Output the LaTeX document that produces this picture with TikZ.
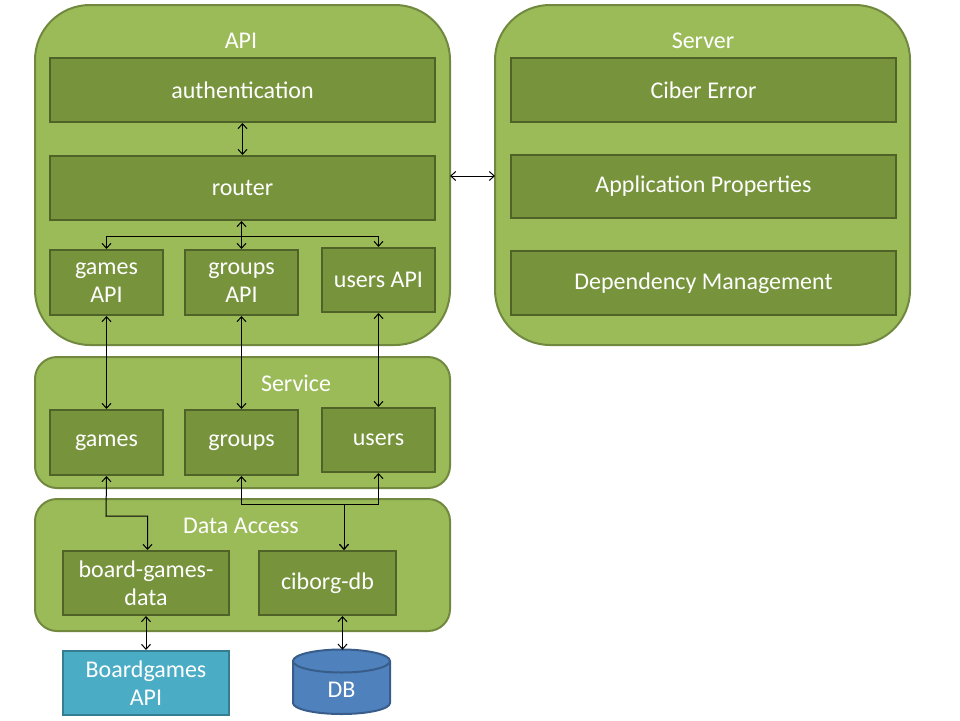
\documentclass[tikz,border=0pt]{standalone}
\usepackage{fontspec}
\setmainfont{Carlito}
\usetikzlibrary{arrows.meta}
\definecolor{contfill}{HTML}{9BBB59}
\definecolor{contline}{HTML}{71893F}
\definecolor{boxfill}{HTML}{77933C}
\definecolor{boxline}{HTML}{4F6228}
\definecolor{apifill}{HTML}{4BACC6}
\definecolor{apiline}{HTML}{357D91}
\definecolor{dbfill}{HTML}{4F81BD}
\definecolor{dbline}{HTML}{385D8A}
\tikzset{
  cont/.style={draw=contline, fill=contfill, line width=2pt},
  inbox/.style={draw=boxline, fill=boxfill, line width=2pt, text=white, align=center,
    font=\fontsize{24}{28}\selectfont, inner sep=0pt},
  ctitle/.style={text=white, font=\fontsize{24}{28}\selectfont, inner sep=0pt},
  link/.style={line width=1pt, {Straight Barb[length=5pt,width=9pt]}-{Straight Barb[length=5pt,width=9pt]}},
  onelink/.style={line width=1pt, -{Straight Barb[length=5pt,width=9pt]}},
}
\begin{document}
\begin{tikzpicture}[x=1pt,y=-1pt]
\useasboundingbox (0,0) rectangle (960,720);
% containers
\draw[cont, rounded corners=55pt] (35,5) rectangle (450,345);
\draw[cont, rounded corners=55pt] (495,5) rectangle (910,345);
\draw[cont, rounded corners=22pt] (35,357) rectangle (450,488);
\draw[cont, rounded corners=22pt] (35,499) rectangle (450,631);
\node[ctitle] (tapi) at (241,41) {API};
\node[ctitle] (tserver) at (703,41) {Server};
\node[ctitle] (tservice) at (296,383) {Service};
\node[ctitle] (tdata) at (241,526) {Data Access};
% API boxes
\node[inbox, minimum width=385, minimum height=64] (auth) at (242.5,90) {authentication};
\node[inbox, minimum width=385, minimum height=64] (router) at (242.5,188) {router};
\node[inbox, minimum width=113, minimum height=65] (gamesapi) at (106.5,282.5) {games\\API};
\node[inbox, minimum width=113, minimum height=65] (groupsapi) at (241.5,282.5) {groups\\API};
\node[inbox, minimum width=113, minimum height=64] (usersapi) at (378.5,280) {users API};
% Server boxes
\node[inbox, minimum width=385, minimum height=64] (ciber) at (703.5,90) {Ciber Error};
\node[inbox, minimum width=385, minimum height=63] (appprops) at (703.5,186.5) {Application Properties};
\node[inbox, minimum width=385, minimum height=64] (depmgmt) at (703.5,283) {Dependency Management};
% Service boxes
\node[inbox, minimum width=113, minimum height=65] (games) at (106.5,442.5) {games};
\node[inbox, minimum width=113, minimum height=65] (groups) at (241.5,442.5) {groups};
\node[inbox, minimum width=113, minimum height=64] (users) at (378.5,440) {users};
% Data access boxes
\node[inbox, minimum width=166, minimum height=64] (bgdata) at (146,583) {board-games-\\data};
\node[inbox, minimum width=137, minimum height=64] (ciborg) at (327.5,583) {ciborg-db};
% external
\node[inbox, draw=apiline, fill=apifill, minimum width=166, minimum height=64] (bgapi) at (146,683) {Boardgames\\API};
\fill[dbfill] (293,661) -- (293,703) arc[start angle=180, end angle=0, x radius=48.5, y radius=11] -- (390,661) -- cycle;
\draw[dbline, line width=2pt] (293,661) -- (293,703) arc[start angle=180, end angle=0, x radius=48.5, y radius=11] -- (390,661);
\draw[dbline, fill=dbfill, line width=2pt] (341.5,661) ellipse[x radius=48.5, y radius=11.5];
\node[text=white, font=\fontsize{24}{28}\selectfont, inner sep=0pt] (db) at (341.5,690) {DB};
\node[inner sep=0pt, minimum width=97, minimum height=64] (dbtop) at (341.5,682) {};
% connectors
\coordinate (apiR) at (450,176);
\coordinate (serverL) at (495,176);
\draw[link] (apiR) -- (serverL);
\draw[link] (auth.south) -- (router.north);
\coordinate (hub) at (241,236);
\draw[link] (router.south -| groupsapi.north) -- (groupsapi.north);
\draw[onelink] (hub) -| (gamesapi.north);
\draw[onelink] (hub) -| (usersapi.north);
\draw[link] (gamesapi.south) -- (games.north);
\draw[link] (groupsapi.south) -- (groups.north);
\draw[link] (usersapi.south) -- (users.north);
\coordinate (gbend) at (106,516);
\draw[link] (games.south) -- (gbend) -| ([xshift=1.5pt]bgdata.north);
\coordinate (dbbend) at (344,504);
\draw[link] (groups.south) |- (dbbend) -- (dbbend |- ciborg.north);
\draw[link] (users.south) |- (dbbend) -- (dbbend |- ciborg.north);
\draw[link] (bgdata.south) -- (bgapi.north);
\draw[link] ([xshift=15pt]ciborg.south) -- ([xshift=15pt]ciborg.south |- dbtop.north);
\end{tikzpicture}
\end{document}
